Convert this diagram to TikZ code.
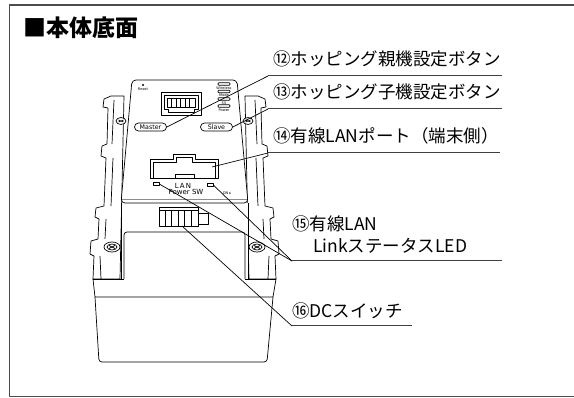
\documentclass[tikz,border=0pt]{standalone}
\usepackage{fontspec}
\newfontfamily\jp{Noto Sans CJK JP}
\newfontfamily\dv{DejaVu Sans}
\newcommand\devbracket{%
 \draw[dev, fill=white] (104,99) -- (111,96) -- (124,96) -- (120,279) -- (93,279) -- (94,256) -- (90,254) -- (91,241) -- (98,239) -- (99,219) -- (95,217) -- (96,208) -- (104,206) -- (106,158) -- (101,156) -- (102,146) -- (107,144) -- (108,108) -- (103,107) -- cycle;
 \draw[dev] (114,100) -- (112,144) (113,158) -- (111,206) (106,219) -- (105,239) (100,256) -- (101,279);
 \draw[dev, fill=white] (121,121) ellipse [x radius=5, y radius=3.5];
 \draw[dev] (118.5,120) -- (123.5,122) (118.5,122) -- (123.5,120);
 \draw[dev, fill=white] (112,247) ellipse [x radius=8, y radius=5];
 \draw[dev] (112,247) ellipse [x radius=5, y radius=3];
 \draw[dev] (109,245.5) -- (115,248.5) (109,248.5) -- (115,245.5);
}
\begin{document}
\begin{tikzpicture}[x=1pt,y=-1pt, line join=round,
  dev/.style={line width=0.7pt, draw=black},
  lead/.style={line width=0.7pt, draw=black},
  uline/.style={line width=1pt, draw=black!75},
  lbl/.style={anchor=base west, inner sep=0pt, font=\jp\fontsize{17.5}{20}\selectfont},
  tinytxt/.style={inner sep=0pt, font=\dv\fontsize{3.6}{3.6}\selectfont},
  smalltxt/.style={inner sep=0pt, font=\dv\fontsize{7}{7}\selectfont},
  pill/.style={draw, rounded corners=4pt, minimum width=32pt, minimum height=8pt, inner sep=0pt, line width=0.7pt, font=\dv\fontsize{6.3}{6.3}\selectfont},
]
\useasboundingbox (0,0) rectangle (574,398);
% frame
\draw[line width=1.3pt, draw=black!70] (580,5) -- (9.3,5) -- (9.3,396.5) -- (580,396.5);
% title
\node[anchor=base west, inner sep=0pt, font=\jp\bfseries\fontsize{23}{26}\selectfont] (title) at (23,36.5) {■本体底面};

% lower box
\draw[dev, rounded corners=3pt] (95,297) -- (99,362) -- (267,362) -- (273,297);
\draw[dev] (93,279) -- (95,297) -- (273,297) -- (276,279);

% brackets
\devbracket
\begin{scope}[shift={(369,0)}, xscale=-1]
\devbracket
\end{scope}

% middle body
\fill[white] (121,203) rectangle (248,279);
\draw[dev] (121,203) -- (121,279) (248,203) -- (248,279);
\draw[dev, rounded corners=3pt] (124,279) -- (124,232) -- (245,232) -- (245,279);
\draw[dev] (93,279) -- (124,279) (245,279) -- (276,279);

% plate
\draw[dev, fill=white, rounded corners=4pt] (121,203) -- (132,80) -- (237,80) -- (248,203) -- cycle;
\draw[black!45, line width=0.6pt] (122,199.5) -- (247,199.5);

% reset
\fill (143,85) circle (1.1);
\node[tinytxt] (reset) at (143,89.5) {Reset};

% top RJ45 port
\draw[dev] (161,92) rectangle (201,115);
\draw[dev] (164,95) -- (198,95) -- (198,109) -- (194,109) -- (194,112) -- (168,112) -- (168,109) -- (164,109) -- cycle;
\draw[dev] (167,98) rectangle (195,107);
\foreach \x in {171.5,176,180.5,185,189.5} \draw[dev] (\x,98) -- (\x,107);

% status LEDs
\foreach \y/\t/\n in {84/Wireless/a, 91.5/Mode/b, 99/SS/c, 106/Power/d} {
  \draw[dev, rounded corners=1pt] (218,\y-1.3) rectangle (230,\y+1.3);
  \node[tinytxt] (st\n) at (224,\y+4) {\t};
}

% buttons
\node[pill] (master) at (150.5,127) {Master};
\node[pill] (slave) at (216.5,127) {Slave};

% lower LAN port
\draw[dev] (150,159) -- (173,159) -- (173,154) -- (195,154) -- (195,159) -- (218,159) -- (218,178) -- (150,178) -- cycle;
\draw[dev] (153,178) -- (153,162) -- (176,162) -- (176,157) -- (192,157) -- (192,162) -- (215,162) -- (215,178);
\draw[dev] (175,178) -- (175,174) -- (194,174) -- (194,178);
\coordinate (lanport) at (212,167);

% LAN text, LEDs
\node[smalltxt] (lantxt) at (183,185.5) {L\,A\,N};
\node[smalltxt] (pwtxt) at (186,192) {Power SW};
\node[draw, line width=0.6pt, minimum width=6pt, minimum height=3.5pt, inner sep=0pt] (ledL) at (156,184) {};
\node[draw, line width=0.6pt, minimum width=6pt, minimum height=3.5pt, inner sep=0pt] (ledR) at (210,185) {};
\node[tinytxt] (ontxt) at (227,193) {ON ▸};

% DC switch
\node[draw, line width=0.7pt, minimum width=39pt, minimum height=19pt, inner sep=0pt] (dcsw) at (178.5,216.5) {};
\draw[dev] (159,210) -- (198,210);
\foreach \x in {165,171.5,178,184.5,191} \draw[dev] (\x,210) -- (\x,226);
\draw[dev] (198,213) -- (208,213) -- (208,224.5) -- (198,224.5);
\coordinate (dcpt) at (182,226);

% leader bends and ends
\coordinate (k12) at (268,76);  \coordinate (e12) at (502,76);
\coordinate (k13) at (268,109); \coordinate (e13) at (502,109);
\coordinate (k14) at (268,153); \coordinate (e14) at (500,153);
\coordinate (k15) at (292,261); \coordinate (e15) at (502,261);
\coordinate (k16) at (292,326); \coordinate (e16) at (412,326);

\draw[lead] (master.east) -- (k12);
\draw[lead] (slave.east) -- (k13);
\draw[lead] (lanport) -- (k14);
\draw[lead] (ledL.east) -- (k15);
\draw[lead] (ledR.east) -- (k15);
\draw[lead] (dcpt) -- (k16);
\draw[uline] (k12) -- (e12);
\draw[uline] (k13) -- (e13);
\draw[uline] (k14) -- (e14);
\draw[uline] (k15) -- (e15);
\draw[uline] (k16) -- (e16);

% labels
\node[lbl] (l12) at (273,65.5) {⑫ホッピング親機設定ボタン};
\node[lbl] (l13) at (273,99) {⑬ホッピング子機設定ボタン};
\node[lbl] (l14) at (273,142.5) {⑭有線LANポート（端末側）};
\node[lbl] (l15a) at (292,231) {⑮有線LAN};
\node[lbl] (l15b) at (313,253) {LinkステータスLED};
\node[lbl] (l16) at (292,318) {⑯DCスイッチ};
\end{tikzpicture}
\end{document}
